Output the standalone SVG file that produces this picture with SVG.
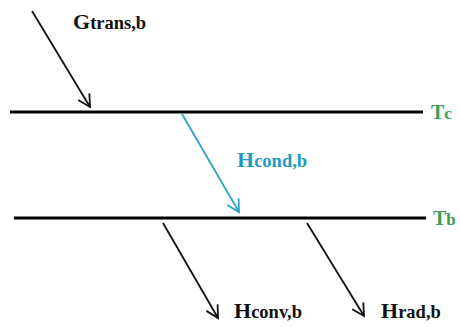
<svg xmlns="http://www.w3.org/2000/svg" width="460" height="327" viewBox="0 0 460 327">
<defs>
<marker id="ab" markerWidth="16" markerHeight="16" refX="13" refY="8" orient="auto" markerUnits="userSpaceOnUse"><path d="M1,1.5 L13,8 L1,14.5" fill="none" stroke="#111" stroke-width="1.8"/></marker>
<marker id="ac" markerWidth="16" markerHeight="16" refX="13" refY="8" orient="auto" markerUnits="userSpaceOnUse"><path d="M1,1.5 L13,8 L1,14.5" fill="none" stroke="#2aa6c4" stroke-width="1.8"/></marker>
</defs>
<style>
.surf{stroke:#000;stroke-width:3}
.flow{stroke:#111;stroke-width:1.8;fill:none;marker-end:url(#ab)}
.cflow{stroke:#2aa6c4;stroke-width:1.8;fill:none;marker-end:url(#ac)}
.lbl{font-family:"Liberation Serif",serif;font-weight:bold;fill:#111}
.big{font-size:22px}
.sm{font-size:18.5px}
.cy{fill:#1e9cc0}
.gr{fill:#3a9a5a;font-family:"Liberation Serif",serif;font-weight:bold}
</style>
<rect width="460" height="327" fill="#fff"/>
<g id="surface-c"><line class="surf" x1="10" y1="112" x2="423" y2="112"/><text class="gr" x="431" y="119"><tspan font-size="20">T</tspan><tspan font-size="17">c</tspan></text></g>
<g id="surface-b"><line class="surf" x1="14" y1="218" x2="426" y2="218"/><text class="gr" x="433" y="225"><tspan font-size="20">T</tspan><tspan font-size="17">b</tspan></text></g>
<g id="connectors">
<line class="flow" x1="32" y1="11" x2="90" y2="107"/>
<line class="cflow" x1="182" y1="114" x2="239" y2="212"/>
<line class="flow" x1="163" y1="223" x2="218" y2="318"/>
<line class="flow" x1="307" y1="223" x2="364" y2="316"/>
</g>
<g id="g-trans"><text class="lbl" x="73" y="29"><tspan class="big">G</tspan><tspan class="sm">trans,b</tspan></text></g>
<g id="h-cond"><text class="lbl cy" x="237" y="167"><tspan class="big">H</tspan><tspan class="sm">cond,b</tspan></text></g>
<g id="h-conv"><text class="lbl" x="234" y="318"><tspan class="big">H</tspan><tspan class="sm">conv,b</tspan></text></g>
<g id="h-rad"><text class="lbl" x="381" y="318"><tspan class="big">H</tspan><tspan class="sm">rad,b</tspan></text></g>
</svg>
